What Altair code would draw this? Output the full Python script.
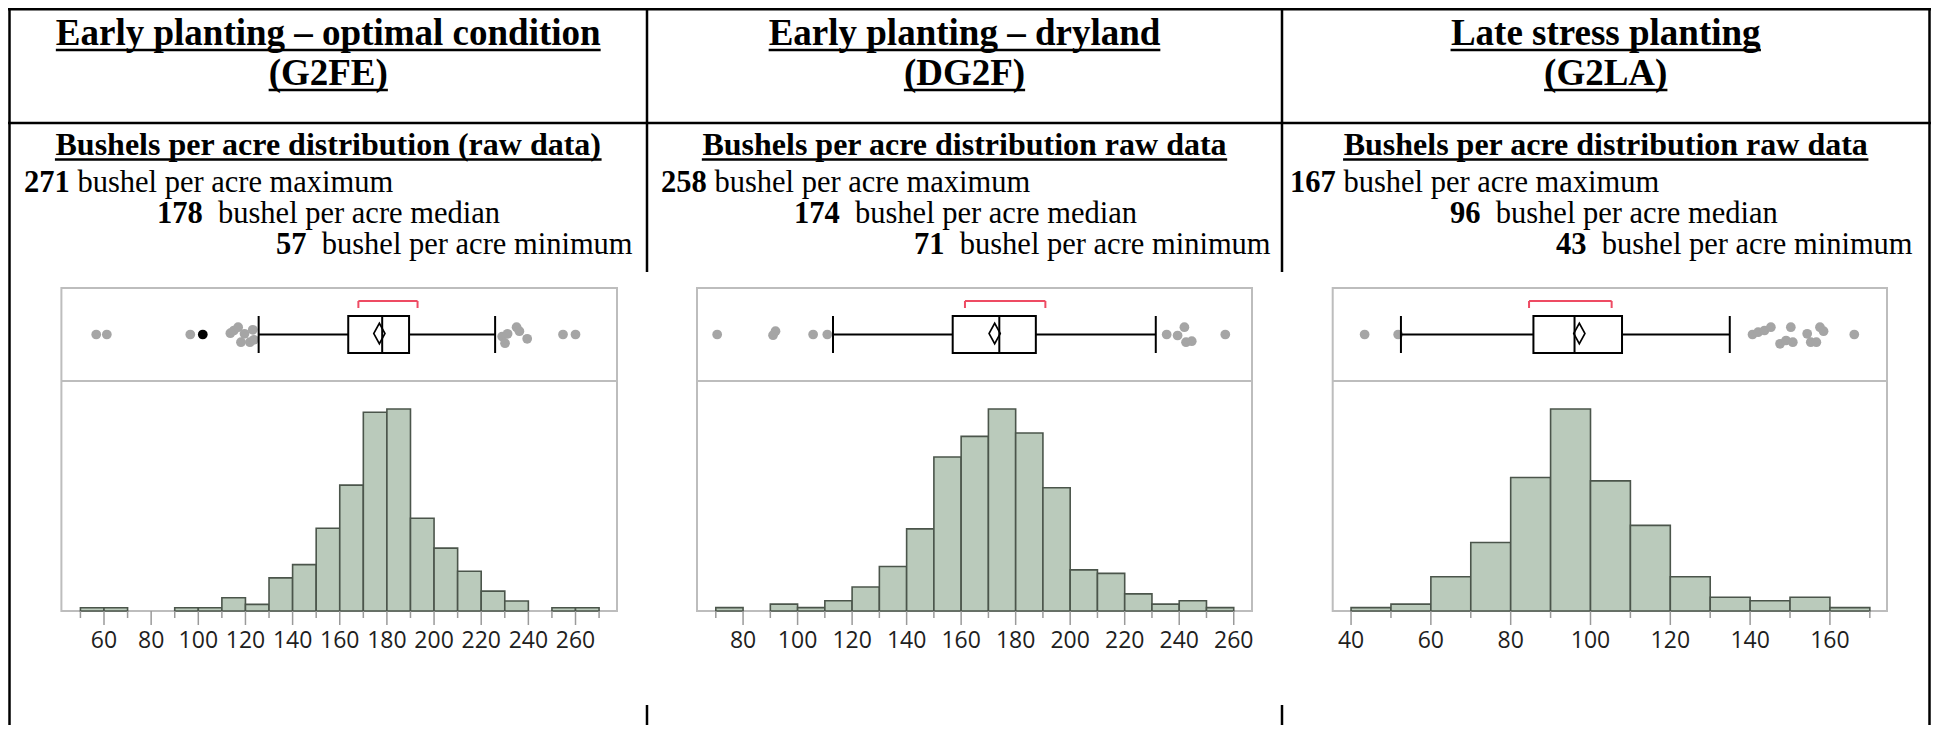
import altair as alt
import pandas as pd

# ---------------- data ----------------
panel_titles = ["Early planting – optimal condition", "Early planting – dryland", "Late stress planting"]
panel_codes = ["(G2FE)", "(DG2F)", "(G2LA)"]
panel_subtitles = ["Bushels per acre distribution (raw data)",
                   "Bushels per acre distribution raw data",
                   "Bushels per acre distribution raw data"]
max_values = ["271", "258", "167"]
median_values = ["178", "174", "96"]
min_values = ["57", "71", "43"]
max_label = "bushel per acre maximum"
median_label = "bushel per acre median"
min_label = "bushel per acre minimum"

# histograms (bin start, bin width 10, relative counts)
bins_1 = [50, 60, 70, 80, 90, 100, 110, 120, 130, 140, 150, 160, 170, 180, 190, 200, 210, 220, 230, 240, 250, 260]
counts_1 = [1, 1, 0, 0, 1, 1, 4, 2, 10, 14, 25, 38, 60, 61, 28, 19, 12, 6, 3, 0, 1, 1]
bins_2 = [70, 80, 90, 100, 110, 120, 130, 140, 150, 160, 170, 180, 190, 200, 210, 220, 230, 240, 250]
counts_2 = [1, 0, 2, 1, 3, 7, 13, 24, 45, 51, 59, 52, 36, 12, 11, 5, 2, 3, 1]
bins_3 = [40, 50, 60, 70, 80, 90, 100, 110, 120, 130, 140, 150, 160]
counts_3 = [1, 2, 10, 20, 39, 59, 38, 25, 10, 4, 3, 4, 1]

# box plot summaries
q1_vals = [163.6, 156.9, 85.7]
med_vals = [178, 174, 96]
q3_vals = [189.4, 187.4, 107.9]
wlo_vals = [125.6, 113.0, 52.5]
whi_vals = [225.9, 231.4, 134.9]
mean_vals = [176.8, 172.3, 97.2]
short_lo = [167.9, 161.4, 84.6]
short_hi = [193.0, 190.9, 105.3]

# outliers (value, vertical jitter in -1..1)
out_1 = [56.7, 61.2, 96.6, 113.6, 115.1, 116.9, 118.1, 119.6, 121.9, 123.1, 123.6,
         228.9, 230.1, 231.2, 235.0, 236.2, 239.5, 254.7, 260.0]
jit_1 = [0, 0, 0, -0.13, -0.4, -0.73, 0.77, -0.07, 0.77, -0.47, 0.53,
         0.2, 0.87, -0.07, -0.73, -0.33, 0.43, 0, 0]
hi_1 = [101.9]
out_2 = [70.5, 91.0, 91.9, 105.7, 110.9, 235.4, 239.4, 241.9, 242.5, 244.6, 256.9]
jit_2 = [0, 0.07, -0.33, 0, 0, 0, 0.1, -0.73, 0.77, 0.67, 0]
out_3 = [43.4, 51.8, 140.6, 142.0, 143.6, 145.2, 147.5, 149.0, 150.2, 150.7, 154.3,
         155.2, 156.6, 157.5, 158.4, 166.1]
jit_3 = [0, 0, 0, -0.23, -0.4, -0.73, 0.93, 0.6, -0.73, 0.77, -0.07, 0.77, 0.77, -0.73, -0.33, 0]

# axis ticks and labels
ticks_1 = [50, 60, 70, 80, 90, 100, 110, 120, 130, 140, 150, 160, 170, 180, 190, 200, 210, 220, 230, 240, 250, 260, 270]
labels_1 = ["60", "80", "100", "120", "140", "160", "180", "200", "220", "240", "260"]
ticks_2 = [70, 80, 90, 100, 110, 120, 130, 140, 150, 160, 170, 180, 190, 200, 210, 220, 230, 240, 250, 260]
labels_2 = ["80", "100", "120", "140", "160", "180", "200", "220", "240", "260"]
ticks_3 = [40, 50, 60, 70, 80, 90, 100, 110, 120, 130, 140, 150, 160, 170]
labels_3 = ["40", "60", "80", "100", "120", "140", "160"]

BINS = [bins_1, bins_2, bins_3]
COUNTS = [counts_1, counts_2, counts_3]
OUTS = [out_1, out_2, out_3]
JITS = [jit_1, jit_2, jit_3]
HIGHS = [hi_1, [], []]
TICKS = [ticks_1, ticks_2, ticks_3]
LABELS = [labels_1, labels_2, labels_3]
BIN_W = 10

# ---------------- layout (chart pixels) ----------------
W, H = 1923, 717
SERIF = "Liberation Serif"
SANS = "Open Sans"
COL_L = [1.5, 639, 1274]
COL_R = [639, 1274, 1921.5]
COL_C = [(a + b) / 2 for a, b in zip(COL_L, COL_R)]
MAX_X = [16, 653, 1282]
MED_X = [149, 786, 1442]
MIN_X = [268, 906, 1548]
TITLE_Y, CODE_Y, SUB_Y = 37, 77, 147
LINE_Y = [184, 215, 246]
TITLE_FS, SUB_FS, BODY_FS = 37, 32, 30.5

PX0 = [53.4, 689, 1324.7]
PX1 = [609, 1244, 1879]
DOM = [(41.93, 277.6), (63.1, 266.7), (35.4, 174.3)]
FR_TOP, FR_MID, FR_BOT = 280, 373, 603
BOX_T, BOX_B = 308, 345
BOX_C = (BOX_T + BOX_B) / 2
BR_Y = 293

FRAME_C = "#bdbdbd"
TICK_C = "#9a9a9a"
BAR_FILL = "#bacabb"
BAR_STROKE = "#4b554b"
RED = "#ee4b63"
DOT_C = "#a5a5a5"

# Times bold advance widths (per 1000 em) for underline lengths
TB = {" ": 250, "(": 333, ")": 333, "–": 500, "A": 722, "B": 667, "D": 722, "E": 667, "F": 611,
      "G": 778, "L": 667, "a": 500, "b": 556, "c": 444, "d": 556, "e": 444, "g": 500, "h": 556,
      "i": 278, "l": 278, "m": 833, "n": 556, "o": 500, "p": 556, "r": 444, "s": 389, "t": 333,
      "u": 556, "w": 722, "y": 500, "x": 500}
for d in "0123456789":
    TB[d] = 500


def wbold(s, fs):
    return sum(TB.get(c, 500) for c in s) / 1000.0 * fs


# ---------------- table text ----------------
center_rows, num_rows, reg_rows, rule_rows = [], [], [], []
for i in range(3):
    for txt, y, fs in [(panel_titles[i], TITLE_Y, TITLE_FS), (panel_codes[i], CODE_Y, TITLE_FS),
                       (panel_subtitles[i], SUB_Y, SUB_FS)]:
        center_rows.append({"x": COL_C[i], "y": y, "t": txt, "s": fs})
        w = wbold(txt, fs)
        uy = y + (5 if fs == TITLE_FS else 4.5)
        rule_rows.append({"x": COL_C[i] - w / 2, "x2": COL_C[i] + w / 2, "y": uy, "y2": uy, "w": 2.5})
    for num, lab, x0, y, nsp in [(max_values[i], max_label, MAX_X[i], LINE_Y[0], 1),
                                 (median_values[i], median_label, MED_X[i], LINE_Y[1], 2),
                                 (min_values[i], min_label, MIN_X[i], LINE_Y[2], 2)]:
        num_rows.append({"x": x0, "y": y, "t": num})
        reg_rows.append({"x": x0 + wbold(num, BODY_FS) + nsp * 0.25 * BODY_FS, "y": y, "t": lab})

# table lines
rule_rows += [
    {"x": 0, "x2": W, "y": 1.25, "y2": 1.25, "w": 2.5},
    {"x": 0, "x2": W, "y": 115, "y2": 115, "w": 2.5},
    {"x": COL_L[0], "x2": COL_L[0], "y": 0, "y2": H, "w": 2.5},
    {"x": COL_R[2], "x2": COL_R[2], "y": 0, "y2": H, "w": 2.5},
]
for xd in [COL_R[0], COL_R[1]]:
    rule_rows.append({"x": xd, "x2": xd, "y": 0, "y2": 264, "w": 2.5})
    rule_rows.append({"x": xd, "x2": xd, "y": 697, "y2": H, "w": 2.5})

pxx = lambda f: alt.X(f, type="quantitative", scale=None, axis=None)
pxy = lambda f: alt.Y(f, type="quantitative", scale=None, axis=None)

t_center = alt.Chart(pd.DataFrame(center_rows)).mark_text(
    font=SERIF, fontWeight="bold", align="center", baseline="alphabetic", color="black"
).encode(x=pxx("x"), y=pxy("y"), text="t:N", size=alt.Size("s:Q", scale=None, legend=None))
t_num = alt.Chart(pd.DataFrame(num_rows)).mark_text(
    font=SERIF, fontWeight="bold", align="left", baseline="alphabetic", color="black", fontSize=BODY_FS
).encode(x=pxx("x"), y=pxy("y"), text="t:N")
t_reg = alt.Chart(pd.DataFrame(reg_rows)).mark_text(
    font=SERIF, align="left", baseline="alphabetic", color="black", fontSize=BODY_FS
).encode(x=pxx("x"), y=pxy("y"), text="t:N")
t_rules = alt.Chart(pd.DataFrame(rule_rows)).mark_rule(color="black", strokeWidth=2.5).encode(
    x=pxx("x"), x2="x2:Q", y=pxy("y"), y2="y2:Q")

table = alt.layer(t_rules, t_center, t_num, t_reg)

one = pd.DataFrame({"k": [0]})


def xscale(i):
    return alt.Scale(domain=list(DOM[i]), range=[PX0[i], PX1[i]], nice=False, zero=False)


def panel_main(i):
    xs = xscale(i)
    X = lambda f: alt.X(f, type="quantitative", scale=xs, axis=None)
    hdf = pd.DataFrame({"start": BINS[i], "count": COUNTS[i]})
    hdf = hdf[hdf["count"] > 0].copy()
    hdf["end"] = hdf["start"] + BIN_W
    ymax = max(COUNTS[i]) * (FR_BOT - FR_MID) / 202.0
    ys = alt.Scale(domain=[0, ymax], range=[FR_BOT, FR_MID], nice=False, zero=True)

    frame = alt.Chart(one).mark_rect(filled=False, color=FRAME_C, strokeWidth=2).encode(
        x=alt.value(PX0[i]), x2=alt.value(PX1[i]), y=alt.value(FR_TOP), y2=alt.value(FR_BOT))
    divider = alt.Chart(one).mark_rule(color=FRAME_C, strokeWidth=2).encode(
        x=alt.value(PX0[i]), x2=alt.value(PX1[i]), y=alt.value(FR_MID))
    hist = alt.Chart(hdf).mark_rect(fill=BAR_FILL, stroke=BAR_STROKE, strokeWidth=1.6).encode(
        x=X("start"), x2="end:Q", y=alt.Y("count:Q", scale=ys, axis=None), y2=alt.datum(0))

    lab_vals = [float(v) for v in LABELS[i]]
    tdf = pd.DataFrame({"t": TICKS[i]})
    minor_df = tdf[~tdf["t"].isin(lab_vals)]
    major_df = tdf[tdf["t"].isin(lab_vals)]
    minor = alt.Chart(minor_df).mark_rule(color=TICK_C, strokeWidth=1.5).encode(
        x=X("t"), y=alt.value(FR_BOT), y2=alt.value(FR_BOT + 7))
    major = alt.Chart(major_df).mark_rule(color=TICK_C, strokeWidth=1.5).encode(
        x=X("t"), y=alt.value(FR_BOT), y2=alt.value(FR_BOT + 14))
    ldf = pd.DataFrame({"lab": LABELS[i], "v": lab_vals})
    labels = alt.Chart(ldf).mark_text(font=SANS, fontSize=23, color="#1e1e1e", baseline="middle",
                                      align="center").encode(
        x=X("v"), y=alt.value(FR_BOT + 30), text="lab:N")
    return alt.layer(frame, divider, hist, minor, major, labels)


def panel_dots(i):
    xs = xscale(i)
    jy = alt.Scale(domain=[-1, 1], range=[BOX_C - 10, BOX_C + 10])
    ddf = pd.DataFrame({"v": OUTS[i], "j": JITS[i]})
    dots = alt.Chart(ddf).mark_circle(size=95, color=DOT_C, opacity=1).encode(
        x=alt.X("v:Q", scale=xs, axis=None), y=alt.Y("j:Q", scale=jy, axis=None))
    layers = [dots]
    if HIGHS[i]:
        hdf = pd.DataFrame({"v": HIGHS[i], "j": [0] * len(HIGHS[i])})
        layers.append(alt.Chart(hdf).mark_circle(size=95, color="black", opacity=1).encode(
            x=alt.X("v:Q", scale=xs, axis=None), y=alt.Y("j:Q", scale=jy, axis=None)))
    return alt.layer(*layers)


def panel_box(i):
    xs = xscale(i)
    X = lambda f: alt.X(f, type="quantitative", scale=xs, axis=None)
    bdf = pd.DataFrame({"q1": [q1_vals[i]], "q3": [q3_vals[i]], "med": [med_vals[i]],
                        "wlo": [wlo_vals[i]], "whi": [whi_vals[i]], "mean": [mean_vals[i]],
                        "slo": [short_lo[i]], "shi": [short_hi[i]]})
    base = alt.Chart(bdf)
    box = base.mark_rect(filled=False, color="black", strokeWidth=2).encode(
        x=X("q1"), x2="q3:Q", y=alt.value(BOX_T), y2=alt.value(BOX_B))
    med = base.mark_rule(color="black", strokeWidth=2).encode(
        x=X("med"), y=alt.value(BOX_T), y2=alt.value(BOX_B))
    wl = base.mark_rule(color="black", strokeWidth=2).encode(x=X("wlo"), x2="q1:Q", y=alt.value(BOX_C))
    wr = base.mark_rule(color="black", strokeWidth=2).encode(x=X("q3"), x2="whi:Q", y=alt.value(BOX_C))
    cl = base.mark_rule(color="black", strokeWidth=2).encode(
        x=X("wlo"), y=alt.value(BOX_T), y2=alt.value(BOX_B))
    cr = base.mark_rule(color="black", strokeWidth=2).encode(
        x=X("whi"), y=alt.value(BOX_T), y2=alt.value(BOX_B))
    mean = base.mark_point(shape="M0,-1L0.55,0L0,1L-0.55,0Z", size=420, filled=False,
                           color="black", strokeWidth=1.6, opacity=1).encode(
        x=X("mean"), y=alt.value(BOX_C - 1))
    br = base.mark_rule(color=RED, strokeWidth=2).encode(x=X("slo"), x2="shi:Q", y=alt.value(BR_Y))
    brl = base.mark_rule(color=RED, strokeWidth=2).encode(
        x=X("slo"), y=alt.value(BR_Y), y2=alt.value(BR_Y + 7))
    brr = base.mark_rule(color=RED, strokeWidth=2).encode(
        x=X("shi"), y=alt.value(BR_Y), y2=alt.value(BR_Y + 7))
    return alt.layer(box, wl, wr, cl, cr, med, mean, br, brl, brr)


children = [table]
for i in range(3):
    children += [panel_main(i), panel_dots(i), panel_box(i)]

chart = alt.layer(*children).resolve_scale(
    x="independent", y="independent"
).properties(
    width=W, height=H, padding=0,
    autosize=alt.AutoSizeParams(type="none"),
    background="white",
).configure_view(strokeWidth=0)

chart.save("out.html", embed_options={"renderer": "svg", "actions": False})
